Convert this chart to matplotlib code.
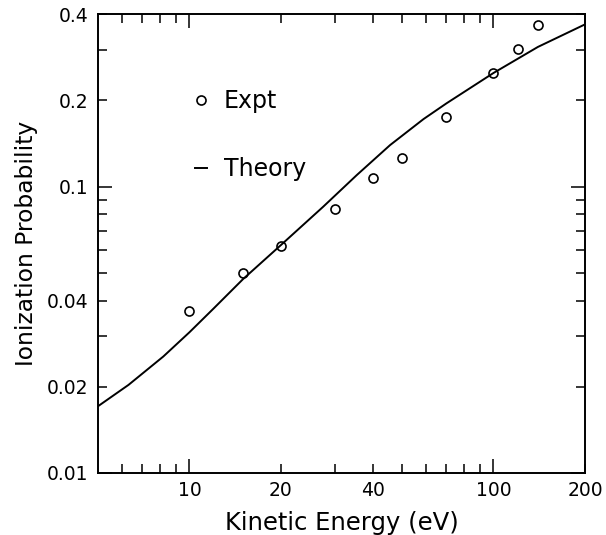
import numpy as np
import matplotlib
matplotlib.use('Agg')
import matplotlib.pyplot as plt
from matplotlib.ticker import FixedLocator, FuncFormatter

expt_energy = [10, 15, 20, 30, 40, 50, 70, 100, 120, 140]
expt_prob = [0.0368, 0.0499, 0.0620, 0.0837, 0.1067, 0.1254, 0.1746, 0.249, 0.301, 0.365]

theory_energy = [5, 6.3, 8.2, 10, 12, 15, 20, 27.5, 35.5, 45.7, 58.9, 70, 100, 140, 200]
theory_prob = [0.0171, 0.0203, 0.0255, 0.0310, 0.0375, 0.0475, 0.0625, 0.0849, 0.1096, 0.1395,
               0.172, 0.195, 0.249, 0.307, 0.368]

x_major = [10, 100]
x_minor = [6, 7, 8, 9, 20, 30, 40, 50, 60, 70, 80, 90, 200]
x_labels = [10, 20, 40, 100, 200]
y_major = [0.01, 0.1]
y_minor = [0.02, 0.03, 0.04, 0.05, 0.06, 0.07, 0.08, 0.09, 0.2, 0.3, 0.4]
y_labels = [0.01, 0.02, 0.04, 0.1, 0.2, 0.4]

plt.rcParams['font.family'] = ['DejaVu Sans']

fig = plt.figure(figsize=(6.06, 5.35), dpi=100)
ax = fig.add_axes([0.1617, 0.1159, 0.8036, 0.8579])

theory, = ax.plot(theory_energy, theory_prob, color='black', lw=1.4, label='Theory')
expt, = ax.plot(expt_energy, expt_prob, 'o', mfc='none', mec='black', ms=6.5, mew=1.2,
                label='Expt')

ax.set_xscale('log')
ax.set_yscale('log')
ax.set_xlim(5, 200)
ax.set_ylim(0.01, 0.4)


def labeler(wanted):
    def fmt(v, pos):
        if np.any(np.isclose(v, wanted)):
            return '%g' % v
        return ''
    return FuncFormatter(fmt)


ax.xaxis.set_major_locator(FixedLocator(x_major))
ax.xaxis.set_minor_locator(FixedLocator(x_minor))
ax.xaxis.set_major_formatter(labeler(x_labels))
ax.xaxis.set_minor_formatter(labeler(x_labels))
ax.yaxis.set_major_locator(FixedLocator(y_major))
ax.yaxis.set_minor_locator(FixedLocator(y_minor))
ax.yaxis.set_major_formatter(labeler(y_labels))
ax.yaxis.set_minor_formatter(labeler(y_labels))

ax.tick_params(which='both', direction='in', top=True, right=True, width=1.1,
               labelsize=13.5, pad=7)
ax.tick_params(axis='x', which='both', pad=6)
ax.tick_params(which='major', length=10)
ax.tick_params(which='minor', length=6.5)
for s in ax.spines.values():
    s.set_linewidth(1.4)

ax.set_xlabel('Kinetic Energy (eV)', fontsize=17.5, labelpad=7.5)
ax.set_ylabel('Ionization Probability', fontsize=16.8, labelpad=6)

ax.legend(handles=[expt, theory], loc='upper left', bbox_to_anchor=(0.2, 0.836),
          frameon=False, fontsize=17, handlelength=0.5, handletextpad=0.7,
          labelspacing=1.87, borderpad=0, borderaxespad=0, numpoints=1)

fig.savefig('out.png', dpi=100)
